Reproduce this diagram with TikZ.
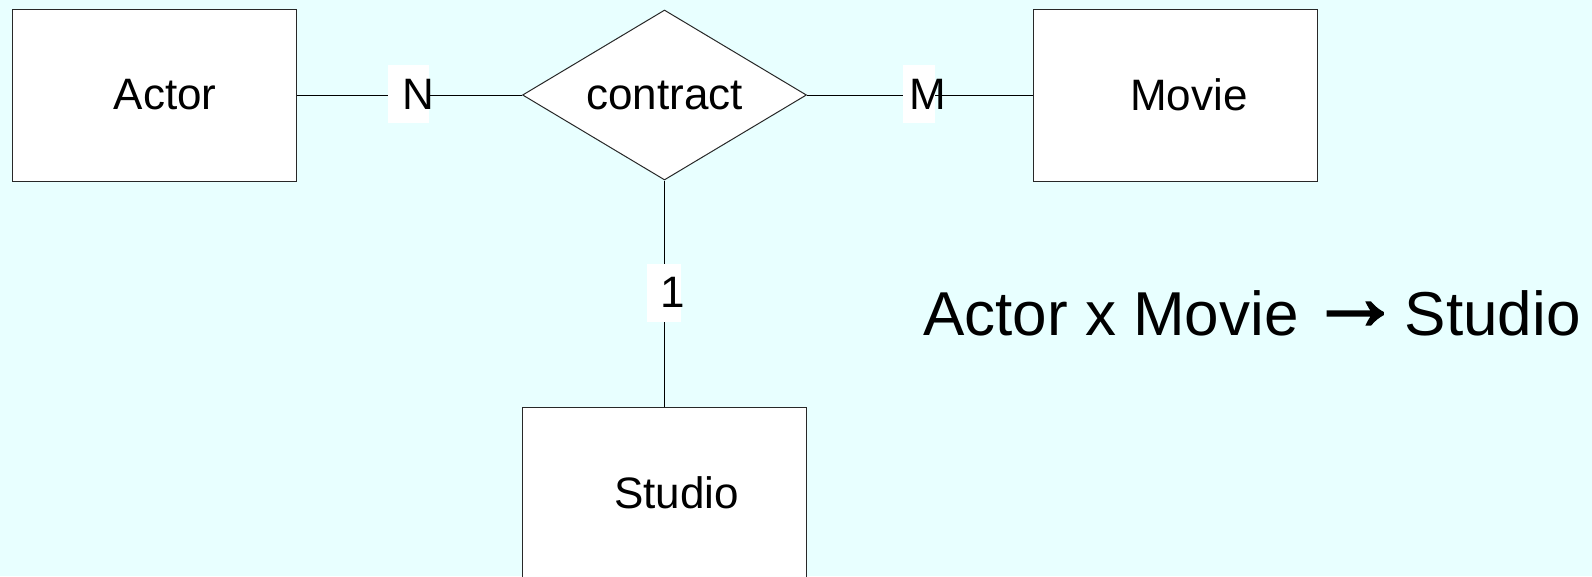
\documentclass[tikz,border=0pt]{standalone}
\usepackage{fontspec}
\setmainfont{Liberation Sans}
\newfontfamily\arrowfont[FakeBold=2.5]{Liberation Sans}
\usetikzlibrary{shapes.geometric}
\definecolor{bgcyan}{RGB}{232,255,255}
\definecolor{edgegray}{RGB}{40,40,40}
\tikzset{
  entity/.style={draw=edgegray, line width=1pt, fill=white, minimum width=284pt, minimum height=172pt, inner sep=0pt, font=\fontsize{44}{50}\selectfont},
  relation/.style={draw=edgegray, line width=1pt, fill=white, diamond, shape aspect=1.67, minimum width=284pt, minimum height=170pt, inner sep=0pt, font=\fontsize{44}{50}\selectfont},
  conn/.style={draw=black, line width=1pt},
  card/.style={fill=white, inner sep=0pt, minimum height=58pt, font=\fontsize{44}{50}\selectfont},
  bigtext/.style={inner sep=0pt, anchor=base west, font=\fontsize{62}{70}\selectfont}
}
\begin{document}
\begin{tikzpicture}[x=1pt,y=-1pt]
\path[use as bounding box, fill=bgcyan] (0,0) rectangle (1592,576);
\clip (0,0) rectangle (1592,576);
% entities and relationship
\node[entity] (actor) at (154,95) {\hspace*{22pt}Actor};
\node[entity] (movie) at (1175,95) {\hspace*{28pt}Movie};
\node[entity] (studio) at (664.5,493) {\hspace*{24pt}Studio};
\node[relation] (contract) at (664.5,95) {contract};
% connectors
\draw[conn] (actor.east) -- (contract.west);
\draw[conn] (contract.east) -- (movie.west);
\draw[conn] (contract.south) -- (studio.north);
% cardinality labels
\node[card, minimum width=41pt] (cn) at (408.5,94) {\makebox[41pt][l]{\hspace*{14pt}N}};
\node[card, minimum width=32pt] (cm) at (919,94) {\makebox[32pt][l]{\hspace*{6pt}M}};
\node[card, minimum width=34pt] (c1) at (664,292.5) {\makebox[34pt][l]{\hspace*{13pt}1}};
% functional dependency text
\node[bigtext] (fd) at (923,335) {Actor x Movie\hspace{10pt}\raisebox{6pt}{\arrowfont\fontsize{93}{93}\selectfont →}\hspace{3pt}Studio};
\end{tikzpicture}
\end{document}
